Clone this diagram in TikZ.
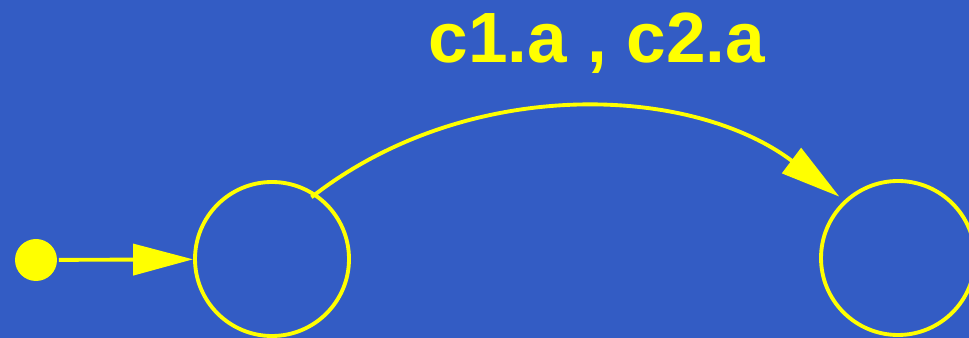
\documentclass[tikz,border=0pt]{standalone}
\usepackage{fontspec}
\setmainfont{Liberation Sans}
\usepackage{xcolor}
\usetikzlibrary{arrows.meta, positioning}
\definecolor{slideblue}{RGB}{51,92,196}
\definecolor{slideyellow}{RGB}{255,255,0}

\begin{document}
\begin{tikzpicture}[->, >={Triangle[length=1.2cm, width=0.62cm]}, line width=2.2pt, draw=slideyellow,
    state/.style={circle, draw=slideyellow, line width=2.2pt, minimum size=3.08cm, inner sep=0pt},
    initdot/.style={circle, fill=slideyellow, minimum size=0.84cm, inner sep=0pt}]
    \useasboundingbox (0,0) rectangle (19.38,6.76);
    \fill[slideblue] (0,0) rectangle (19.38,6.76);
    \node[initdot] (init) at (0.72,1.56) {};
    \node[state] (A) at (5.44,1.58) {};
    \node[state] (B) at (17.96,1.60) {};
    \draw[slideyellow] (init) -- (A);
    \draw[slideyellow, shorten <=-0.12cm, shorten >=0.12cm] (A.56) to[out=38, in=143, looseness=0.93] (B.133);
    % transition label
    \node[anchor=base, text=slideyellow, font=\fontsize{40.5}{44}\selectfont\bfseries] (lbl) at (11.94,5.5) {c1.a , c2.a};
\end{tikzpicture}
\end{document}
